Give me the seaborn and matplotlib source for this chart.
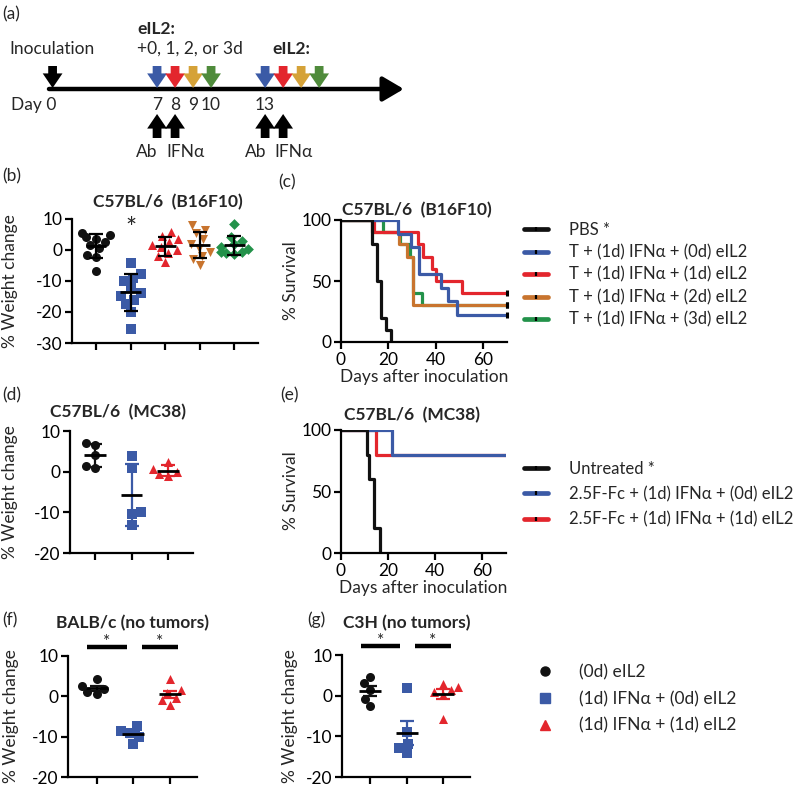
import numpy as np
import pandas as pd
import matplotlib
matplotlib.use("Agg")
import matplotlib.pyplot as plt
from matplotlib.lines import Line2D
import seaborn as sns

# ---------------- (a) treatment schedule ----------------
ab_days = [7, 13]
ifn_days = [8, 14]
eil2_offsets = [0, 1, 2, 3]
day_ticks = [7, 8, 9, 10, 13]
day0_pos = 1.2  # the 0 -> 7 stretch of the schematic is drawn compressed

# ---------------- (b) weight change, C57BL/6 (B16F10) ----------------
b_ctrl = [5.5, 4.8, 4.2, 3.5, 2.5, 1.5, 0.5, -1.5, -2.3, -6.7]
b_ifn_0d = [-4.2, -7.6, -9.0, -10.0, -12.0, -14.0, -15.0, -16.0, -17.5, -20.0, -25.5]
b_ifn_1d = [5.8, 4.5, 3.5, 2.5, 1.5, 1.0, 0.0, -1.0, -2.0, -3.8]
b_ifn_2d = [8.2, 6.5, 5.5, 3.5, 2.0, 0.8, -0.5, -2.0, -3.0, -5.0]
b_ifn_3d = [8.3, 4.2, 3.0, 2.0, 1.0, 0.3, -0.5, -0.8, -1.0, -1.2]

# ---------------- (c) survival, C57BL/6 (B16F10) ----------------
c_labels = ["PBS *", "T + (1d) IFNα + (0d) eIL2", "T + (1d) IFNα + (1d) eIL2",
            "T + (1d) IFNα + (2d) eIL2", "T + (1d) IFNα + (3d) eIL2"]
c_pbs_t = [0, 13, 15, 17, 19, 21]
c_pbs_s = [100, 80, 50, 20, 10, 0]
c_0d_t = [0, 24, 29.5, 33, 42, 45, 49, 70]
c_0d_s = [100, 88.9, 77.8, 55.6, 44.4, 33.3, 22.2, 22.2]
c_1d_t = [0, 14, 32.5, 34.5, 38.5, 40, 51, 70]
c_1d_s = [100, 90, 80, 70, 60, 50, 40, 40]
c_2d_t = [0, 13, 24.5, 28, 30.5, 70]
c_2d_s = [100, 90, 80, 70, 30, 30]
c_3d_t = [0, 17.5, 25, 29, 30.5, 34, 70]
c_3d_s = [100, 90, 80, 70, 40, 30, 30]

# ---------------- (d) weight change, C57BL/6 (MC38) ----------------
d_ctrl = [7.0, 6.5, 4.0, 1.5, 1.0]
d_ifn_0d = [3.8, 1.0, -10.0, -10.5, -13.2]
d_ifn_1d = [2.3, 0.6, 0.0, -0.5, -1.0]

# ---------------- (e) survival, C57BL/6 (MC38) ----------------
e_labels = ["Untreated *", "2.5F-Fc + (1d) IFNα + (0d) eIL2", "2.5F-Fc + (1d) IFNα + (1d) eIL2"]
e_untr_t = [0, 11, 12, 14, 16.5]
e_untr_s = [100, 80, 60, 20, 0]
e_0d_t = [0, 21.5, 70]
e_0d_s = [100, 80, 80]
e_1d_t = [0, 15, 70]
e_1d_s = [100, 80, 80]

# ---------------- (f) BALB/c and (g) C3H, no tumors ----------------
fg_labels = ["(0d) eIL2", "(1d) IFNα + (0d) eIL2", "(1d) IFNα + (1d) eIL2"]
f_ctrl = [4.2, 2.5, 1.8, 1.0, 0.5]
f_ifn_0d = [-7.3, -8.5, -9.0, -10.0, -11.8]
f_ifn_1d = [4.2, 1.5, 0.8, -0.3, -1.0, -2.1]
g_ctrl = [4.6, 3.0, 1.4, -0.7, -2.6]
g_ifn_0d = [1.8, -9.0, -12.0, -12.8, -14.2]
g_ifn_1d = [2.8, 2.2, 1.5, 1.0, 0.2, -5.7]
sig_bars = [(-0.25, 0.82), (1.23, 2.22)]  # category span of each "*" bracket

BLACK, BLUE, RED, ORANGE, GREEN = "#111111", "#3b5aa6", "#e3262d", "#c8742e", "#23924a"
GOLD, DGREEN = "#d5a238", "#4f8b3b"

sns.set_theme(style="ticks")
plt.rcParams["font.family"] = ["Lato", "DejaVu Sans"]
plt.rcParams["axes.unicode_minus"] = False
FS = 12.5

W, H = 800, 790
fig = plt.figure(figsize=(W / 100, H / 100), dpi=100)


def px_axes(x0, y0, x1, y1):
    return fig.add_axes([x0 / W, 1 - y1 / H, (x1 - x0) / W, (y1 - y0) / H])


def ftext(x, y, s, **kw):
    kw.setdefault("fontsize", FS)
    kw.setdefault("va", "center")
    fig.text(x / W, 1 - y / H, s, **kw)


def style_axes(ax):
    sns.despine(ax=ax)
    for sp in ("left", "bottom"):
        ax.spines[sp].set_linewidth(1.6)
        ax.spines[sp].set_color("black")
    ax.tick_params(direction="out", length=5, width=1.6, labelsize=FS, colors="black", pad=2)
    ax.set_xlabel("")
    ax.set_ylabel("")


def weight_panel(ax, groups, colors, markers, err, ylim, yticks, err_colors, xlim):
    names = [str(i) for i in range(len(groups))]
    df = pd.DataFrame({"grp": np.repeat(names, [len(g) for g in groups]),
                       "val": np.concatenate(groups)})
    for name, col, mk in zip(names, colors, markers):
        sns.swarmplot(data=df[df.grp == name], x="grp", y="val", order=names, color=col,
                      marker=mk, size=6.5 if mk != "D" else 5.5, linewidth=0, ax=ax, zorder=3)
    stats = df.groupby("grp")["val"].agg(["mean", "std", "sem"])
    for i, name in enumerate(names):
        m, e = stats.loc[name, "mean"], stats.loc[name, err]
        ax.errorbar(i, m, yerr=e, color=err_colors[i], capsize=5, capthick=1.6,
                    elinewidth=1.6, zorder=4)
        ax.plot([i - 0.3, i + 0.3], [m, m], color="black", lw=2, zorder=5, solid_capstyle="butt")
    ax.set_ylim(*ylim)
    ax.set_yticks(yticks)
    ax.set_xticks(range(len(groups)))
    ax.set_xticklabels([])
    ax.set_xlim(*xlim)
    style_axes(ax)


def survival_panel(ax, curves, colors, censor):
    for (t, s), col in reversed(list(zip(curves, colors))):
        sns.lineplot(x=t, y=s, ax=ax, color=col, lw=2.3, drawstyle="steps-post",
                     estimator=None, sort=False)
        if censor and s[-1] > 0:
            ax.plot(t[-1], s[-1], marker="|", color="black", ms=5, mew=2.2, clip_on=False, zorder=6)
    ax.set_xlim(0, 70)
    ax.set_ylim(0, 100)
    ax.set_xticks([0, 20, 40, 60])
    ax.set_yticks([0, 50, 100])
    style_axes(ax)


def curve_handles(colors):
    return [(Line2D([], [], color=c, lw=3.4),
             Line2D([], [], color="black", marker="|", ms=3.5, mew=1.6, ls="none")) for c in colors]


# ---------------- (a) ----------------
ax_a = fig.add_axes([0, 1 - 165 / H, 420 / W, 165 / H])
ax_a.set_xlim(-1.72, 21.6)
ax_a.set_ylim(165, 0)
ax_a.axis("off")
ax_a.annotate("", xy=(20.7, 89), xytext=(1.0, 89),
              arrowprops=dict(arrowstyle="-|>,head_length=0.85,head_width=0.5", lw=3.2,
                              color="black", mutation_scale=15, shrinkA=0, shrinkB=0))
block = "simple,head_length=0.7,head_width=0.95,tail_width=0.42"


def block_arrow(x, y_from, y_to, col):
    ax_a.annotate("", xy=(x, y_to), xytext=(x, y_from),
                  arrowprops=dict(arrowstyle=block, color=col, mutation_scale=15,
                                  shrinkA=0, shrinkB=0, lw=0))


block_arrow(day0_pos, 66, 88, "black")
for start in ab_days:
    for off, col in zip(eil2_offsets, [BLUE, RED, GOLD, DGREEN]):
        block_arrow(start + off, 66, 88, col)
for d in ab_days + ifn_days:
    block_arrow(d, 138, 114, "black")
for d in day_ticks:
    ax_a.text(d, 105, str(d), ha="center", va="center", fontsize=FS)
ax_a.text(day0_pos + 0.2, 105, "Day 0", ha="right", va="center", fontsize=FS)
ax_a.text(-1.2, 49, "Inoculation", ha="left", va="center", fontsize=FS)
ax_a.text(5.9, 29, "eIL2:", ha="left", va="center", fontsize=FS, fontweight="bold")
ax_a.text(5.9, 49, "+0, 1, 2, or 3d", ha="left", va="center", fontsize=FS)
ax_a.text(13.4, 49, "eIL2:", ha="left", va="center", fontsize=FS, fontweight="bold")
for d in ab_days:
    ax_a.text(d - 0.55, 152, "Ab", ha="center", va="center", fontsize=FS)
for d in ifn_days:
    ax_a.text(d + 0.6, 152, "IFNα", ha="center", va="center", fontsize=FS)
ftext(2, 14, "(a)")

# ---------------- (b) ----------------
ax_b = px_axes(72, 219, 258, 343)
weight_panel(ax_b, [b_ctrl, b_ifn_0d, b_ifn_1d, b_ifn_2d, b_ifn_3d],
             [BLACK, BLUE, RED, ORANGE, GREEN], ["o", "s", "^", "v", "D"], "std",
             (-30, 10), [-30, -20, -10, 0, 10], ["black"] * 5, (-0.69, 4.68))
ax_b.text(1, 6.6, "*", ha="center", va="center", fontsize=19)
ftext(2, 176, "(b)")
ftext(168, 202, "C57BL/6  (B16F10)", ha="center", fontweight="bold")
ftext(10, 281, "% Weight change", rotation=90, ha="center")

# ---------------- (c) ----------------
ax_c = px_axes(341, 220, 507, 342)
survival_panel(ax_c, [(c_pbs_t, c_pbs_s), (c_0d_t, c_0d_s), (c_1d_t, c_1d_s),
                      (c_2d_t, c_2d_s), (c_3d_t, c_3d_s)],
               [BLACK, BLUE, RED, ORANGE, GREEN], censor=True)
ax_c.set_xlabel("Days after inoculation", fontsize=FS, labelpad=1)
ax_c.legend(curve_handles([BLACK, BLUE, RED, ORANGE, GREEN]), c_labels,
            loc="upper left", bbox_to_anchor=(524 / W, 1 - 222 / H), bbox_transform=fig.transFigure,
            frameon=False, fontsize=12, handlelength=1.45, handletextpad=1.25,
            labelspacing=0.38, borderpad=0, borderaxespad=0)
ftext(278, 182, "(c)")
ftext(417, 210, "C57BL/6  (B16F10)", ha="center", fontweight="bold")
ftext(291, 281, "% Survival", rotation=90, ha="center")

# ---------------- (d) ----------------
ax_d = px_axes(70, 431, 193, 553)
weight_panel(ax_d, [d_ctrl, d_ifn_0d, d_ifn_1d], [BLACK, BLUE, RED], ["o", "s", "^"], "std",
             (-20, 10), [-20, -10, 0, 10], [BLACK, BLUE, RED], (-0.68, 2.68))
ftext(2, 395, "(d)")
ftext(118, 412, "C57BL/6  (MC38)", ha="center", fontweight="bold")
ftext(10, 492, "% Weight change", rotation=90, ha="center")

# ---------------- (e) ----------------
ax_e = px_axes(341, 430, 506, 553)
survival_panel(ax_e, [(e_untr_t, e_untr_s), (e_0d_t, e_0d_s), (e_1d_t, e_1d_s)],
               [BLACK, BLUE, RED], censor=False)
ax_e.set_xlabel("Days after inoculation", fontsize=FS, labelpad=1)
ax_e.legend(curve_handles([BLACK, BLUE, RED]), e_labels,
            loc="upper left", bbox_to_anchor=(524 / W, 1 - 461 / H), bbox_transform=fig.transFigure,
            frameon=False, fontsize=12, handlelength=1.45, handletextpad=1.25,
            labelspacing=0.55, borderpad=0, borderaxespad=0)
ftext(280, 395, "(e)")
ftext(412, 415, "C57BL/6  (MC38)", ha="center", fontweight="bold")
ftext(291, 491, "% Survival", rotation=90, ha="center")

# ---------------- (f) and (g) ----------------
for ax_box, data, tag, tag_x, title, title_x, ylab_x in [
        ((68, 656, 197, 777), [f_ctrl, f_ifn_0d, f_ifn_1d], "(f)", 2, "BALB/c (no tumors)", 133, 11),
        ((342, 655, 470, 777), [g_ctrl, g_ifn_0d, g_ifn_1d], "(g)", 307, "C3H (no tumors)", 407, 290)]:
    ax = px_axes(*ax_box)
    weight_panel(ax, data, [BLACK, BLUE, RED], ["o", "s", "^"], "sem",
                 (-20, 10), [-20, -10, 0, 10], [BLACK, BLUE, RED], (-0.78, 2.74))
    for x0, x1 in sig_bars:
        ax.plot([x0, x1], [12.2, 12.2], color="black", lw=3.2, clip_on=False,
                solid_capstyle="butt")
        ax.text((x0 + x1) / 2, 13.4, "*", ha="center", va="center", fontsize=FS)
    ftext(tag_x, 620, tag)
    ftext(title_x, 623, title, ha="center", fontweight="bold")
    ftext(ylab_x, 716, "% Weight change", rotation=90, ha="center")
    if tag == "(g)":
        handles = [Line2D([], [], color=c, marker=m, ls="none", ms=6.5)
                   for c, m in zip([BLACK, BLUE, RED], ["o", "s", "^"])]
        ax.legend(handles, fg_labels, loc="upper left", bbox_to_anchor=(536 / W, 1 - 664 / H),
                  bbox_transform=fig.transFigure, frameon=False, fontsize=FS,
                  handlelength=1.0, handletextpad=1.5, labelspacing=0.62,
                  borderpad=0, borderaxespad=0)

fig.savefig("out.png", dpi=100, facecolor="white")
